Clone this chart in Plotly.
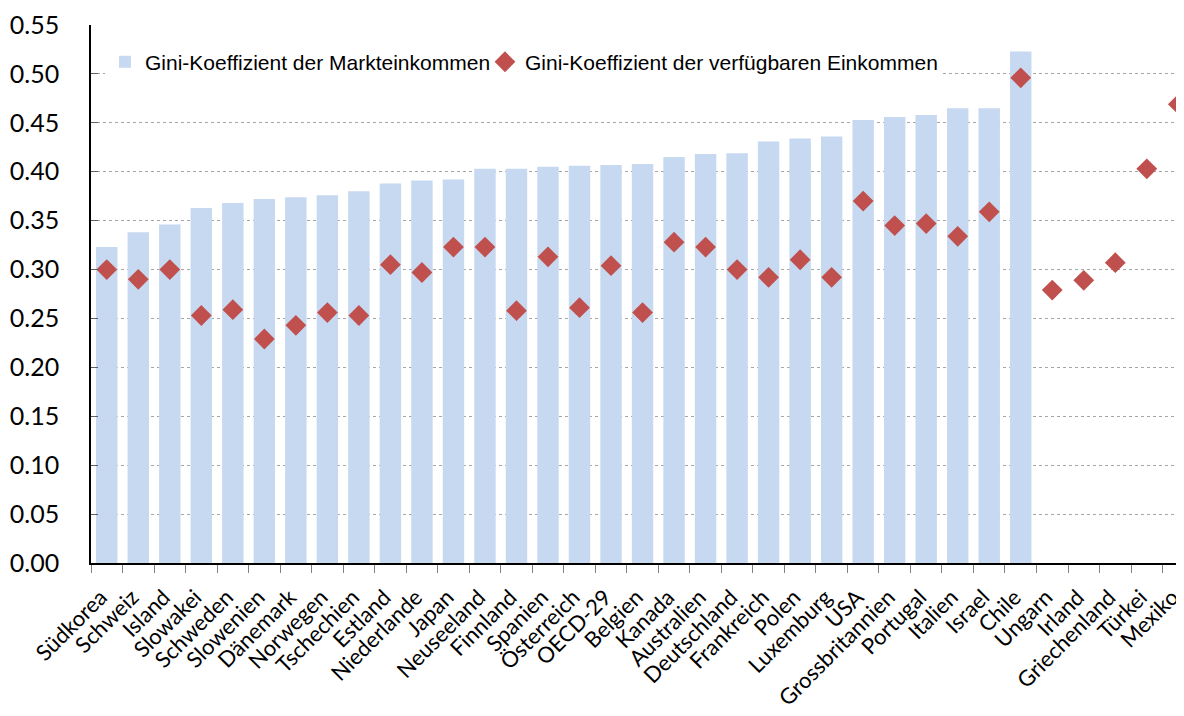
import plotly.graph_objects as go

countries = ["Südkorea", "Schweiz", "Island", "Slowakei", "Schweden", "Slowenien", "Dänemark",
             "Norwegen", "Tschechien", "Estland", "Niederlande", "Japan", "Neuseeland", "Finnland",
             "Spanien", "Österreich", "OECD-29", "Belgien", "Kanada", "Australien", "Deutschland",
             "Frankreich", "Polen", "Luxemburg", "USA", "Grossbritannien", "Portugal", "Italien",
             "Israel", "Chile", "Ungarn", "Irland", "Griechenland", "Türkei", "Mexiko"]

market_gini = [0.323, 0.338, 0.346, 0.363, 0.368, 0.372, 0.374, 0.376, 0.380, 0.388, 0.391,
               0.392, 0.403, 0.403, 0.405, 0.406, 0.407, 0.408, 0.415, 0.418, 0.419, 0.431,
               0.434, 0.436, 0.453, 0.456, 0.458, 0.465, 0.465, 0.523,
               None, None, None, None, None]

disposable_gini = [0.300, 0.290, 0.300, 0.253, 0.259, 0.229, 0.243, 0.256, 0.253, 0.305, 0.297,
                   0.323, 0.323, 0.258, 0.313, 0.261, 0.304, 0.256, 0.328, 0.323, 0.300, 0.292,
                   0.310, 0.292, 0.370, 0.345, 0.347, 0.334, 0.359, 0.496,
                   0.279, 0.289, 0.307, 0.403, 0.469]

y_ticks = [0.00, 0.05, 0.10, 0.15, 0.20, 0.25, 0.30, 0.35, 0.40, 0.45, 0.50, 0.55]

fig = go.Figure()
fig.add_trace(go.Bar(
    x=countries, y=market_gini,
    name="Gini-Koeffizient der Markteinkommen",
    marker=dict(color="#C6D9F1", line=dict(width=0)),
    legendwidth=335,
))
fig.add_trace(go.Scatter(
    x=countries, y=disposable_gini, mode="markers",
    name="Gini-Koeffizient der verfügbaren Einkommen",
    marker=dict(symbol="diamond", size=16, color="#C0504D", line=dict(width=0)),
    legendwidth=410,
))

# the page body adds an 8px offset, so the figure is 8px smaller and margins 8px less
fig.update_layout(
    width=1176, height=708,
    margin=dict(l=83, r=0, t=17, b=153, autoexpand=False),
    paper_bgcolor="white", plot_bgcolor="white",
    bargap=0.32,
    showlegend=True,
    legend=dict(
        orientation="h", x=0.0128, xanchor="left", y=0.931, yanchor="middle",
        bgcolor="white", font=dict(family="Liberation Sans, Arial", size=21, color="black"),
        itemwidth=30, tracegroupgap=0,
    ),
    font=dict(family="Lato, Calibri, sans-serif", color="black"),
)

fig.update_xaxes(
    type="category", range=[-0.5, 34.18], automargin=False,
    tickangle=-45, tickfont=dict(family="Lato", size=22, color="black"),
    ticklabelstandoff=11, ticklabelshift=-6,
    showline=True, linecolor="black", linewidth=1.5,
    ticks="outside", tickson="boundaries", ticklen=8, tickcolor="#808080",
    showgrid=False,
)
fig.update_yaxes(
    range=[0, 0.55], automargin=False,
    tickvals=y_ticks, ticktext=[f"{v:.2f}" for v in y_ticks],
    tickfont=dict(family="Lato", size=25, color="black"),
    ticklabelstandoff=25,
    showline=True, linecolor="black", linewidth=1.5,
    ticks="inside", ticklen=7, tickcolor="#606060",
    showgrid=True, gridcolor="#A6A6A6", griddash="dot", gridwidth=1,
    zeroline=False,
)

fig.write_html("out.html")
